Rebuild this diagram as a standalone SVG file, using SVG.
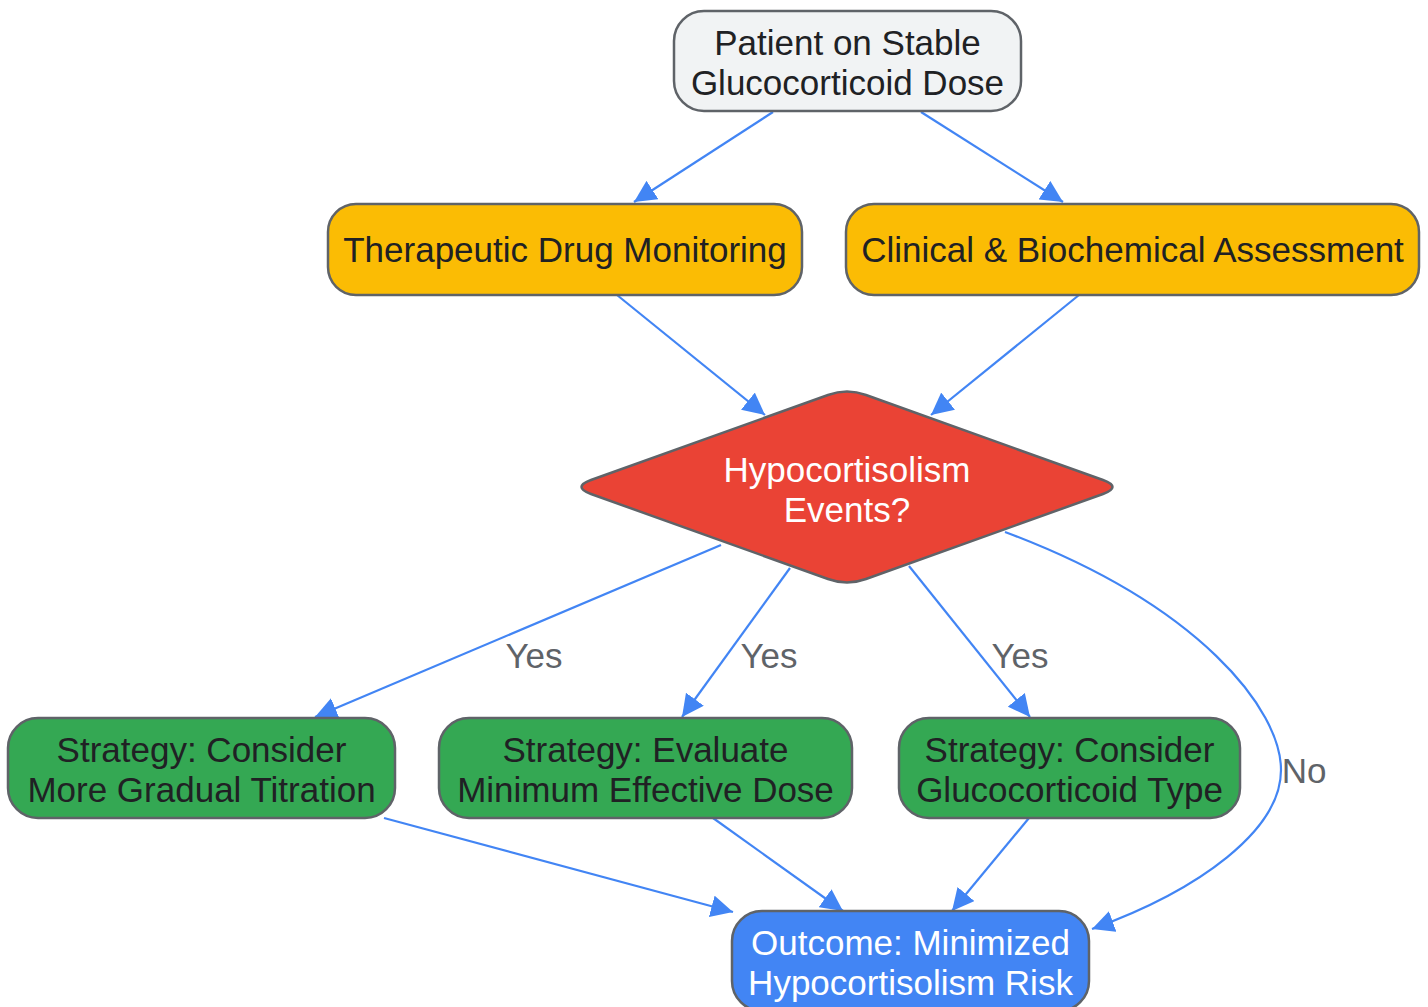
<svg xmlns="http://www.w3.org/2000/svg" width="1428" height="1007" viewBox="0 0 1428 1007">
<defs>
<style>
.n{stroke:#5f6368;stroke-width:2.5}
.t{font-family:"Liberation Sans",Arial,sans-serif;font-size:35px;text-anchor:middle}
.dk{fill:#202124}
.wt{fill:#ffffff}
.e{fill:none;stroke:#4285f4;stroke-width:2.2}
.lb{font-family:"Liberation Sans",Arial,sans-serif;font-size:35px;fill:#5f6368;text-anchor:middle}
</style>
<marker id="ah" markerUnits="userSpaceOnUse" markerWidth="24" markerHeight="22" refX="22" refY="11" orient="auto">
<path d="M0,0 L22,11 L0,22 z" fill="#4285f4"/>
</marker>
</defs>
<rect width="1428" height="1007" fill="#ffffff"/>
<g id="connectors">
<path class="e" d="M773,112 L634,202" marker-end="url(#ah)"/>
<path class="e" d="M921,112 L1063,202" marker-end="url(#ah)"/>
<path class="e" d="M617,295 L765,415" marker-end="url(#ah)"/>
<path class="e" d="M1079,295 L931,415" marker-end="url(#ah)"/>
<path class="e" d="M721,545 L315,717" marker-end="url(#ah)"/>
<path class="e" d="M790,568 L682,717" marker-end="url(#ah)"/>
<path class="e" d="M909,566 L1030,717" marker-end="url(#ah)"/>
<path class="e" d="M1005,532 C1200,605 1281,710 1281,770 C1281,830 1200,890 1092,929" marker-end="url(#ah)"/>
<path class="e" d="M384,818 L733,912" marker-end="url(#ah)"/>
<path class="e" d="M713,818 L843,911" marker-end="url(#ah)"/>
<path class="e" d="M1029,818 L952,911" marker-end="url(#ah)"/>
<text class="lb" x="534" y="668">Yes</text>
<text class="lb" x="769" y="668">Yes</text>
<text class="lb" x="1020" y="668">Yes</text>
<text class="lb" x="1304" y="783">No</text>
</g>
<g id="start">
<rect class="n" x="674" y="11" width="347" height="100" rx="30" fill="#f1f3f4"/>
<text class="t dk" x="847.5" y="55">Patient on Stable</text>
<text class="t dk" x="847.5" y="95">Glucocorticoid Dose</text>
</g>
<g id="tdm">
<rect class="n" x="328" y="204" width="474" height="91" rx="28" fill="#fbbc04"/>
<text class="t dk" x="565" y="262">Therapeutic Drug Monitoring</text>
</g>
<g id="clinical">
<rect class="n" x="846" y="204" width="573" height="91" rx="28" fill="#fbbc04"/>
<text class="t dk" x="1132.5" y="262">Clinical &amp; Biochemical Assessment</text>
</g>
<g id="decision">
<path class="n" fill="#ea4335" d="M828,395 Q847,388 866,395 L1103,480 Q1122,487 1103,494 L866,579 Q847,586 828,579 L591,494 Q572,487 591,480 Z"/>
<text class="t wt" x="847" y="482">Hypocortisolism</text>
<text class="t wt" x="847" y="522">Events?</text>
</g>
<g id="strategy1">
<rect class="n" x="8" y="718" width="387" height="100" rx="30" fill="#34a853"/>
<text class="t dk" x="201.5" y="762">Strategy: Consider</text>
<text class="t dk" x="201.5" y="802">More Gradual Titration</text>
</g>
<g id="strategy2">
<rect class="n" x="439" y="718" width="413" height="100" rx="30" fill="#34a853"/>
<text class="t dk" x="645.5" y="762">Strategy: Evaluate</text>
<text class="t dk" x="645.5" y="802">Minimum Effective Dose</text>
</g>
<g id="strategy3">
<rect class="n" x="899" y="718" width="341" height="100" rx="30" fill="#34a853"/>
<text class="t dk" x="1069.5" y="762">Strategy: Consider</text>
<text class="t dk" x="1069.5" y="802">Glucocorticoid Type</text>
</g>
<g id="outcome">
<rect class="n" x="732" y="911" width="357" height="100" rx="30" fill="#4285f4"/>
<text class="t wt" x="910.5" y="955">Outcome: Minimized</text>
<text class="t wt" x="910.5" y="995">Hypocortisolism Risk</text>
</g>
</svg>
